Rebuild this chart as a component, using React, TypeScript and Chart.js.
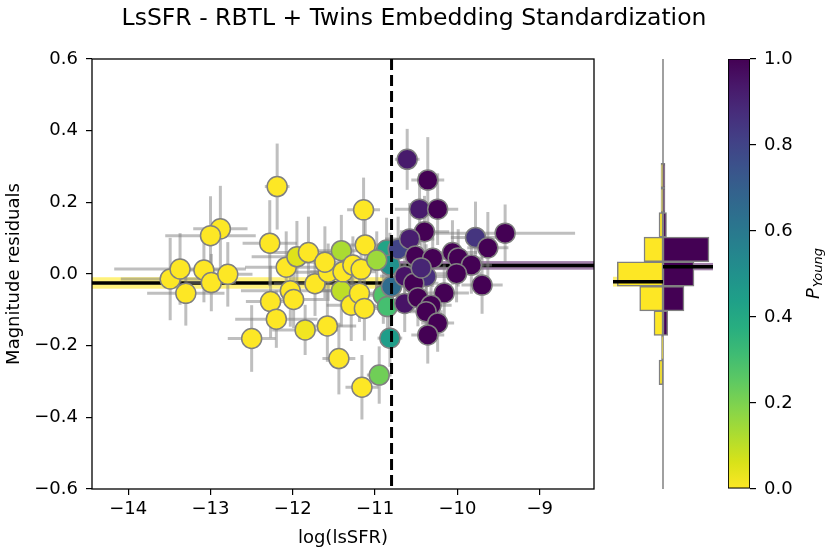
import React, { useEffect, useRef } from 'react';
import { Chart, registerables } from 'chart.js';

Chart.register(...registerables);

const FONT = "'DejaVu Sans', 'Liberation Sans', sans-serif";

const TITLE = 'LsSFR - RBTL + Twins Embedding Standardization';
const X_LABEL = 'log(lsSFR)';
const Y_LABEL = 'Magnitude residuals';

// ---- data ----
const logLsSFR = [
  -12.19, -12.88, -13.0, -12.28, -13.49, -13.37, -13.08, -12.99, -12.79, -13.3,
  -12.08, -11.95, -11.81, -12.27, -12.03, -11.99, -12.2, -12.5, -11.85, -11.58,
  -11.44, -11.73, -11.57, -11.61, -11.41, -11.41, -11.29, -11.14, -11.12, -11.39,
  -11.27, -11.17, -11.19, -11.13, -11.16,
  -10.95, -10.82, -10.86, -10.82, -10.9, -10.85, -10.98, -10.8, -10.72,
  -10.61, -10.36, -10.46, -10.24, -10.4, -10.58, -9.78, -9.42, -9.63, -10.51,
  -10.3, -10.06, -9.99, -9.83, -10.01, -10.64, -10.38, -10.53, -10.16, -9.7,
  -10.64, -10.48, -10.32, -10.38, -10.24, -10.36, -10.44,
];
const logLsSFRErr = [
  0.15, 0.33, 0.55, 0.33, 0.6, 0.8, 0.4, 0.3, 0.3, 0.47,
  0.5, 0.55, 0.45, 0.3, 0.6, 0.4, 0.5, 0.29, 0.4, 0.35,
  0.2, 0.5, 0.4, 0.45, 0.3, 0.3, 0.3, 0.2, 0.3, 0.4,
  0.35, 0.3, 0.3, 0.25, 0.2,
  0.15, 0.15, 0.2, 0.2, 0.2, 0.2, 0.25, 0.2, 0.3,
  0.15, 0.2, 0.3, 0.25, 0.3, 0.3, 0.3, 0.85, 0.25, 0.3,
  0.3, 0.3, 0.3, 0.25, 0.3, 0.3, 0.3, 0.3, 0.3, 0.25,
  0.2, 0.25, 0.25, 0.2, 0.2, 0.2, 0.3,
];
const magResid = [
  0.244, 0.126, 0.107, 0.086, -0.014, 0.014, 0.011, -0.024, -0.001, -0.054,
  0.019, 0.048, 0.06, -0.077, -0.047, -0.071, -0.126, -0.18, -0.156, -0.145,
  -0.236, -0.027, 0.005, 0.033, 0.065, -0.047, -0.087, 0.179, 0.081, 0.006,
  0.025, 0.013, -0.054, -0.096, -0.316,
  -0.282, -0.179, 0.067, 0.025, -0.059, -0.091, 0.039, -0.035, 0.07,
  0.32, 0.262, 0.181, 0.181, 0.118, 0.098, 0.102, 0.114, 0.073, 0.05,
  0.044, 0.06, 0.045, 0.025, 0.001, -0.006, -0.007, -0.026, -0.053, -0.031,
  -0.082, -0.066, -0.087, -0.105, -0.137, -0.17, 0.017,
];
const magResidErr = [
  0.12, 0.12, 0.11, 0.12, 0.115, 0.1, 0.09, 0.08, 0.09, 0.09,
  0.1, 0.1, 0.1, 0.1, 0.1, 0.08, 0.08, 0.093, 0.07, 0.1,
  0.1, 0.09, 0.08, 0.1, 0.1, 0.1, 0.1, 0.09, 0.09, 0.08,
  0.08, 0.08, 0.08, 0.09, 0.09,
  0.08, 0.08, 0.09, 0.09, 0.08, 0.08, 0.08, 0.08, 0.09,
  0.085, 0.12, 0.1, 0.1, 0.1, 0.1, 0.1, 0.08, 0.1, 0.08,
  0.08, 0.09, 0.08, 0.08, 0.08, 0.08, 0.09, 0.08, 0.08, 0.08,
  0.08, 0.08, 0.08, 0.08, 0.08, 0.08, 0.08,
];
const pYoung = [
  0, 0, 0, 0, 0, 0, 0, 0, 0, 0,
  0, 0.05, 0, 0, 0, 0, 0, 0, 0.02, 0,
  0, 0, 0, 0, 0.13, 0.1, 0, 0, 0, 0,
  0, 0, 0, 0, 0,
  0.22, 0.45, 0.42, 0.5, 0.28, 0.3, 0.15, 0.65, 0.8,
  0.93, 1, 0.93, 1, 1, 0.92, 0.85, 1, 1, 1,
  1, 1, 1, 1, 1, 0.95, 0.87, 1, 1, 1,
  0.95, 1, 1, 1, 1, 1, 0.9,
];

const xTicks = [-14, -13, -12, -11, -10, -9];
const yTicks = [-0.6, -0.4, -0.2, 0.0, 0.2, 0.4, 0.6];
const cbTicks = [0.0, 0.2, 0.4, 0.6, 0.8, 1.0];

const X_MIN = -14.44;
const X_MAX = -8.34;
const Y_MIN = -0.6;
const Y_MAX = 0.6;

const lsSFRCut = -10.8;
const oldMean = -0.025;
const oldMeanErr = 0.016;
const youngMean = 0.024;
const youngMeanErr = 0.012;

const histBinCenters = [-0.56, -0.48, -0.4, -0.32, -0.24, -0.16, -0.08, 0.0, 0.08, 0.16, 0.24, 0.32, 0.4, 0.48, 0.56];
const histOld = [0, 0, 0, 0.4, 0.15, 0.9, 2.33, 4.57, 1.9, 0.4, 0.2, 0.2, 0, 0, 0];
const histYoung = [0, 0, 0, 0, 0, 0.47, 2.1, 3.1, 4.6, 0.35, 0.2, 0.2, 0, 0, 0];

// ---- styles ----
const VIRIDIS = [
  '#440154', '#48186a', '#472d7b', '#424086', '#3b528b', '#33638d', '#2c728e', '#26828e',
  '#21918c', '#1fa088', '#28ae80', '#3fbc73', '#5ec962', '#84d44b', '#addc30', '#d8e219', '#fde725',
];
const OLD_COLOR = '#fde725';
const YOUNG_COLOR = '#440154';
const OLD_BAND = 'rgba(253,231,37,0.6)';
const YOUNG_BAND = 'rgba(68,1,84,0.5)';
const EDGE = '#808080';
const ERR_COLOR = 'rgba(128,128,128,0.5)';

function hexToRgb(h: string) {
  const n = parseInt(h.slice(1), 16);
  return [(n >> 16) & 255, (n >> 8) & 255, n & 255];
}
function viridis(t: number) {
  const c = Math.max(0, Math.min(1, t)) * (VIRIDIS.length - 1);
  const i = Math.min(VIRIDIS.length - 2, Math.floor(c));
  const f = c - i;
  const a = hexToRgb(VIRIDIS[i]);
  const b = hexToRgb(VIRIDIS[i + 1]);
  const m = a.map((v, k) => Math.round(v + (b[k] - v) * f));
  return `rgb(${m[0]},${m[1]},${m[2]})`;
}
const colorForP = (p: number) => viridis(1 - p);

const fmtX = (v: any) => (Number(v) < 0 ? '\u2212' : '') + Math.abs(Number(v)).toString();
const fmtY = (v: any) => (Number(v) < -1e-9 ? '\u2212' : '') + Math.abs(Number(v)).toFixed(1);

const tickFont = { family: FONT, size: 18 };

const mainDeco = {
  id: 'mainDeco',
  beforeDatasetsDraw(chart: any) {
    const { ctx, chartArea: a, scales } = chart;
    const x = scales.x;
    const y = scales.y;
    const xc = x.getPixelForValue(lsSFRCut);
    ctx.save();
    ctx.beginPath();
    ctx.rect(a.left, a.top, a.right - a.left, a.bottom - a.top);
    ctx.clip();
    const band = (x0: number, x1: number, m: number, e: number, col: string) => {
      const y0 = y.getPixelForValue(m + e);
      const y1 = y.getPixelForValue(m - e);
      ctx.fillStyle = col;
      ctx.fillRect(x0, y0, x1 - x0, y1 - y0);
    };
    band(a.left, xc, oldMean, oldMeanErr, OLD_BAND);
    band(xc, a.right, youngMean, youngMeanErr, YOUNG_BAND);
    ctx.strokeStyle = '#000';
    ctx.lineWidth = 3.5;
    ctx.beginPath();
    ctx.moveTo(a.left, y.getPixelForValue(oldMean));
    ctx.lineTo(xc, y.getPixelForValue(oldMean));
    ctx.stroke();
    ctx.beginPath();
    ctx.moveTo(xc, y.getPixelForValue(youngMean));
    ctx.lineTo(a.right, y.getPixelForValue(youngMean));
    ctx.stroke();
    ctx.strokeStyle = ERR_COLOR;
    ctx.lineWidth = 3;
    for (let i = 0; i < logLsSFR.length; i++) {
      const xv = logLsSFR[i];
      const yv = magResid[i];
      const px = x.getPixelForValue(xv);
      const py = y.getPixelForValue(yv);
      ctx.beginPath();
      ctx.moveTo(x.getPixelForValue(xv - logLsSFRErr[i]), py);
      ctx.lineTo(x.getPixelForValue(xv + logLsSFRErr[i]), py);
      ctx.stroke();
      ctx.beginPath();
      ctx.moveTo(px, y.getPixelForValue(yv + magResidErr[i]));
      ctx.lineTo(px, y.getPixelForValue(yv - magResidErr[i]));
      ctx.stroke();
    }
    ctx.restore();
  },
  afterDatasetsDraw(chart: any) {
    const { ctx, chartArea: a, scales } = chart;
    const xc = scales.x.getPixelForValue(lsSFRCut);
    ctx.save();
    ctx.strokeStyle = '#000';
    ctx.lineWidth = 3;
    ctx.setLineDash([11, 5]);
    ctx.beginPath();
    ctx.moveTo(xc, a.top);
    ctx.lineTo(xc, a.bottom);
    ctx.stroke();
    ctx.setLineDash([]);
    ctx.lineWidth = 1.3;
    ctx.strokeRect(a.left, a.top, a.right - a.left, a.bottom - a.top);
    ctx.restore();
  },
  afterDraw(chart: any) {
    const { ctx } = chart;
    ctx.save();
    ctx.fillStyle = '#000';
    ctx.font = `23.5px ${FONT}`;
    ctx.textAlign = 'center';
    ctx.textBaseline = 'alphabetic';
    ctx.fillText(TITLE, chart.width / 2 - 1, 25);
    ctx.restore();
  },
};

const histDeco = {
  id: 'histDeco',
  beforeDatasetsDraw(chart: any) {
    const { ctx, chartArea: a, scales } = chart;
    const x0 = scales.x.getPixelForValue(0);
    const y = scales.y;
    ctx.save();
    const band = (xa: number, xb: number, m: number, e: number, col: string) => {
      const y0 = y.getPixelForValue(m + e);
      const y1 = y.getPixelForValue(m - e);
      ctx.fillStyle = col;
      ctx.fillRect(xa, y0, xb - xa, y1 - y0);
    };
    band(a.left, x0, oldMean, oldMeanErr, OLD_BAND);
    band(x0, a.right, youngMean, youngMeanErr, YOUNG_BAND);
    ctx.strokeStyle = EDGE;
    ctx.lineWidth = 1.5;
    ctx.beginPath();
    ctx.moveTo(x0, a.top);
    ctx.lineTo(x0, a.bottom);
    ctx.stroke();
    ctx.restore();
  },
  afterDatasetsDraw(chart: any) {
    const { ctx, chartArea: a, scales } = chart;
    const x0 = scales.x.getPixelForValue(0);
    const y = scales.y;
    ctx.save();
    ctx.strokeStyle = '#000';
    ctx.lineWidth = 3.5;
    ctx.beginPath();
    ctx.moveTo(a.left, y.getPixelForValue(oldMean));
    ctx.lineTo(x0, y.getPixelForValue(oldMean));
    ctx.stroke();
    ctx.beginPath();
    ctx.moveTo(x0, y.getPixelForValue(youngMean));
    ctx.lineTo(a.right, y.getPixelForValue(youngMean));
    ctx.stroke();
    ctx.restore();
  },
};

const cbDeco = {
  id: 'cbDeco',
  afterDraw(chart: any) {
    const { ctx, chartArea: a } = chart;
    const cx = a.right + 64;
    const cy = (a.top + a.bottom) / 2;
    ctx.save();
    ctx.translate(cx, cy);
    ctx.rotate(-Math.PI / 2);
    ctx.fillStyle = '#000';
    ctx.textBaseline = 'middle';
    ctx.textAlign = 'left';
    const f1 = `italic 18px ${FONT}`;
    const f2 = `italic 13px ${FONT}`;
    ctx.font = f1;
    const w1 = ctx.measureText('P').width;
    ctx.font = f2;
    const w2 = ctx.measureText('Young').width;
    const start = -(w1 + w2) / 2;
    ctx.font = f1;
    ctx.fillText('P', start, 0);
    ctx.font = f2;
    ctx.fillText('Young', start + w1 + 1, 5);
    ctx.restore();
  },
};

export default function App() {
  const mainRef = useRef<HTMLCanvasElement>(null);
  const histRef = useRef<HTMLCanvasElement>(null);
  const cbRef = useRef<HTMLCanvasElement>(null);

  useEffect(() => {
    document.body.style.margin = '0';
    const charts: Chart[] = [];

    charts.push(
      new Chart(mainRef.current as HTMLCanvasElement, {
        type: 'scatter',
        data: {
          datasets: [
            {
              data: logLsSFR.map((xv, i) => ({ x: xv, y: magResid[i] })),
              pointRadius: 10,
              pointHoverRadius: 10,
              pointBackgroundColor: pYoung.map(colorForP),
              pointBorderColor: EDGE,
              pointBorderWidth: 1.5,
            },
          ],
        },
        options: {
          responsive: false,
          animation: false,
          events: [],
          layout: { padding: { left: 0, right: 236, top: 59, bottom: 0 } },
          scales: {
            x: {
              type: 'linear',
              min: X_MIN,
              max: X_MAX,
              afterFit: (s: any) => {
                s.height = 65;
              },
              afterBuildTicks: (s: any) => {
                s.ticks = xTicks.map((v) => ({ value: v }));
              },
              ticks: { font: tickFont, color: '#000', padding: 4, callback: fmtX, maxRotation: 0, autoSkip: false },
              grid: { drawOnChartArea: false, drawTicks: true, tickLength: 6, color: '#000', lineWidth: 1.2 },
              border: { display: false },
              title: { display: true, text: X_LABEL, font: { family: FONT, size: 18 }, color: '#000', padding: { top: 0, bottom: 5 } },
            },
            y: {
              type: 'linear',
              min: Y_MIN,
              max: Y_MAX,
              afterFit: (s: any) => {
                s.width = 92;
              },
              afterBuildTicks: (s: any) => {
                s.ticks = yTicks.map((v) => ({ value: v }));
              },
              ticks: { font: tickFont, color: '#000', padding: 8, callback: fmtY, autoSkip: false },
              grid: { drawOnChartArea: false, drawTicks: true, tickLength: 6, color: '#000', lineWidth: 1.2 },
              border: { display: false },
              title: { display: true, text: Y_LABEL, font: { family: FONT, size: 18 }, color: '#000', padding: { top: 4, bottom: 0 } },
            },
          },
          plugins: { legend: { display: false }, tooltip: { enabled: false } },
        } as any,
        plugins: [mainDeco],
      })
    );

    const histData = (vals: number[], sign: number) =>
      histBinCenters
        .map((c, i) => ({ x: sign * vals[i], y: c }))
        .filter((d) => d.x !== 0);

    charts.push(
      new Chart(histRef.current as HTMLCanvasElement, {
        type: 'bar',
        data: {
          datasets: [
            {
              data: histData(histOld, -1),
              backgroundColor: OLD_COLOR,
              borderColor: EDGE,
              borderWidth: 1.5,
              borderSkipped: false,
              grouped: false,
              barPercentage: 1,
              categoryPercentage: 1,
            } as any,
            {
              data: histData(histYoung, 1),
              backgroundColor: YOUNG_COLOR,
              borderColor: EDGE,
              borderWidth: 1.5,
              borderSkipped: false,
              grouped: false,
              barPercentage: 1,
              categoryPercentage: 1,
            } as any,
          ],
        },
        options: {
          indexAxis: 'y',
          responsive: false,
          animation: false,
          events: [],
          layout: { padding: { left: 613, right: 117, top: 59, bottom: 65 } },
          scales: {
            x: { type: 'linear', min: -5, max: 5, display: false },
            y: { type: 'linear', min: Y_MIN, max: Y_MAX, display: false },
          },
          plugins: { legend: { display: false }, tooltip: { enabled: false } },
        } as any,
        plugins: [histDeco],
      })
    );

    charts.push(
      new Chart(cbRef.current as HTMLCanvasElement, {
        type: 'bar',
        data: {
          labels: [''],
          datasets: [
            {
              data: [[0, 1]],
              backgroundColor: (c: any) => {
                const a = c.chart.chartArea;
                if (!a) return OLD_COLOR;
                const g = c.chart.ctx.createLinearGradient(0, a.bottom, 0, a.top);
                VIRIDIS.forEach((col, i) => {
                  g.addColorStop(i / (VIRIDIS.length - 1), VIRIDIS[VIRIDIS.length - 1 - i]);
                });
                return g;
              },
              borderColor: '#000',
              borderWidth: 1.2,
              borderSkipped: false,
              barPercentage: 1,
              categoryPercentage: 1,
            } as any,
          ],
        },
        options: {
          responsive: false,
          animation: false,
          events: [],
          layout: { padding: { left: 728, right: 0, top: 59, bottom: 65 } },
          scales: {
            x: { display: false },
            y: {
              position: 'right',
              min: 0,
              max: 1,
              afterFit: (s: any) => {
                s.width = 80;
              },
              afterBuildTicks: (s: any) => {
                s.ticks = cbTicks.map((v) => ({ value: v }));
              },
              ticks: { font: tickFont, color: '#000', padding: 8, callback: (v: any) => Number(v).toFixed(1) },
              grid: { drawOnChartArea: false, drawTicks: true, tickLength: 6, color: '#000', lineWidth: 1.2 },
              border: { display: false },
            },
          },
          plugins: { legend: { display: false }, tooltip: { enabled: false } },
        } as any,
        plugins: [cbDeco],
      })
    );

    return () => {
      charts.forEach((c) => c.destroy());
    };
  }, []);

  const cs: React.CSSProperties = { position: 'absolute', left: 0, top: 0 };
  return (
    <div style={{ position: 'fixed', left: 0, top: 0, width: 830, height: 554, background: '#fff' }}>
      <canvas ref={mainRef} width={830} height={554} style={cs} />
      <canvas ref={histRef} width={830} height={554} style={cs} />
      <canvas ref={cbRef} width={830} height={554} style={cs} />
    </div>
  );
}
